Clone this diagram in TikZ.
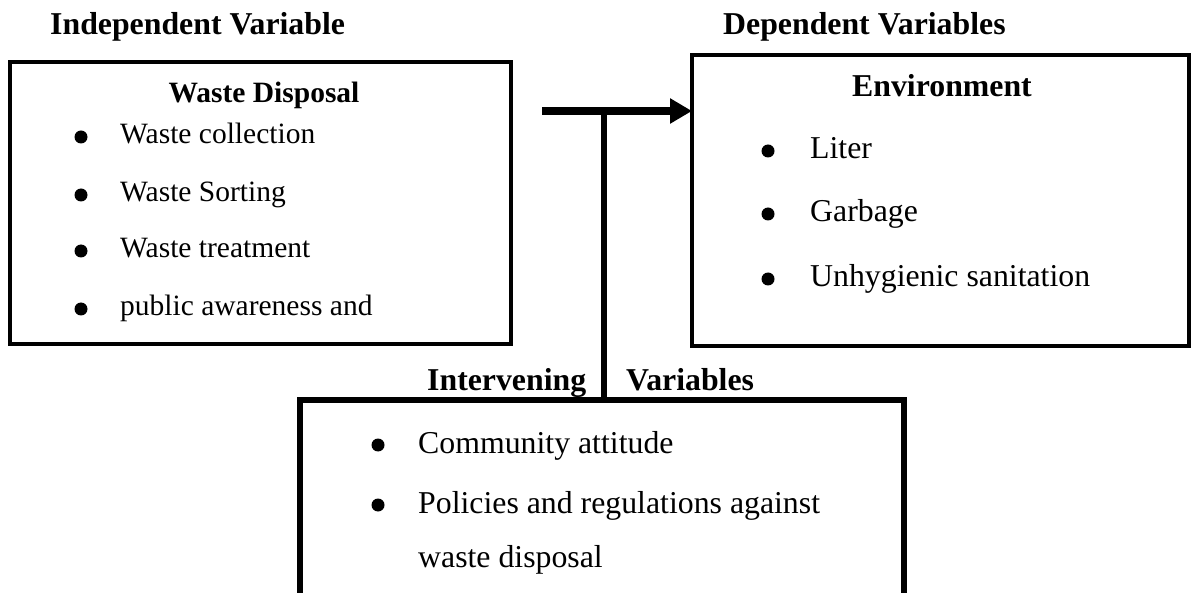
\documentclass[tikz,border=0pt]{standalone}
\usepackage{fontspec}
\setmainfont{Liberation Serif}
\usetikzlibrary{arrows.meta}
\newcommand\txtA{\fontsize{29.5}{35}\selectfont}
\newcommand\txtB{\fontsize{31.8}{38}\selectfont}
\tikzset{
  px/.style={x=1pt,y=-1pt},
  boxthin/.style={draw,line width=4pt,inner sep=0pt,outer sep=0pt,anchor=north west},
  boxthick/.style={draw,line width=6pt,inner sep=0pt,outer sep=0pt,anchor=north west},
  lbl/.style={inner sep=0pt,anchor=base west},
  ttl/.style={inner sep=0pt,anchor=base west,font=\txtB\bfseries},
  hdg/.style={inner sep=0pt,anchor=base},
  bul/.style={circle,fill,inner sep=0pt,minimum size=13pt},
  mainarrow/.style={line width=8pt,-{Triangle[length=22pt,width=24pt]}},
  stem/.style={line width=6pt}
}
\begin{document}
\begin{tikzpicture}[px]
\useasboundingbox (0,0) rectangle (1191,593);
\clip (0,0) rectangle (1191,593);
% titles
\node[ttl] (tind) at (50,35) {Independent Variable};
\node[ttl] (tdep) at (723,35) {Dependent Variables};
\node[ttl] (tint1) at (427,390) {Intervening};
\node[ttl] (tint2) at (626,390) {Variables};
% boxes
\node[boxthin,minimum width=501pt,minimum height=282pt] (ind) at (10,62) {};
\node[boxthin,minimum width=497pt,minimum height=291pt] (dep) at (692,55) {};
\node[boxthick,minimum width=604pt,minimum height=240pt] (int) at (300,400) {};
% left box content
\node[hdg,font=\txtA\bfseries] (hwd) at (264,103) {Waste Disposal};
\node[bul] (b1) at (81,137) {};
\node[lbl,font=\txtA] (i1) at (120,144) {Waste collection};
\node[bul] (b2) at (81,195) {};
\node[lbl,font=\txtA] (i2) at (120,202) {Waste Sorting};
\node[bul] (b3) at (81,251) {};
\node[lbl,font=\txtA] (i3) at (120,258) {Waste treatment};
\node[bul] (b4) at (81,309) {};
\node[lbl,font=\txtA] (i4) at (120,316) {public awareness and};
% right box content
\node[hdg,font=\txtB\bfseries] (henv) at (942,97) {Environment};
\node[bul] (c1) at (768,151) {};
\node[lbl,font=\txtB] (j1) at (810,159) {Liter};
\node[bul] (c2) at (768,214) {};
\node[lbl,font=\txtB] (j2) at (810,222) {Garbage};
\node[bul] (c3) at (768,279) {};
\node[lbl,font=\txtB] (j3) at (810,287) {Unhygienic sanitation};
% bottom box content
\node[bul] (d1) at (378,445) {};
\node[lbl,font=\txtB] (k1) at (418,453) {Community attitude};
\node[bul] (d2) at (378,505) {};
\node[lbl,font=\txtB] (k2) at (418,513) {Policies and regulations against};
\node[lbl,font=\txtB] (k3) at (418,567) {waste disposal};
% connectors
\coordinate (s) at (542,111);
\coordinate (jn) at (604,111);
\draw[mainarrow] (s) -- (s -| dep.west);
\draw[stem] (jn) -- (jn |- int.north);
\end{tikzpicture}
\end{document}
